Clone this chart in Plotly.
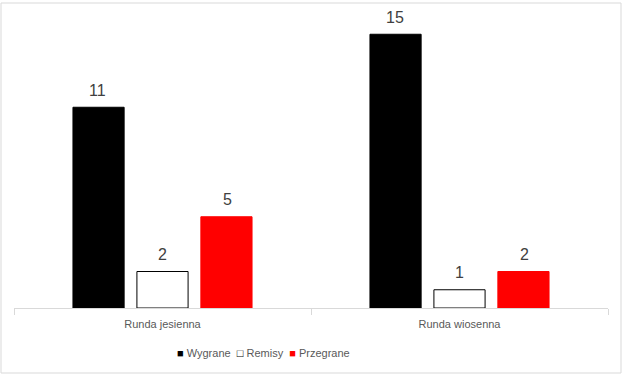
import plotly.graph_objects as go

categories = ["Runda jesienna", "Runda wiosenna"]
series_names = ["Wygrane", "Remisy", "Przegrane"]
wygrane = [11, 15]
remisy = [2, 1]
przegrane = [5, 2]

values = [wygrane, remisy, przegrane]
fills = ["#000000", "#ffffff", "#ff0000"]
lines = ["#000000", "#000000", "#ff0000"]
shifts = [-65, 0, 65]

FONT = "Liberation Sans Narrow, Liberation Sans, DejaVu Sans, sans-serif"

fig = go.Figure()
annotations = []
for name, vals, fc, lc, sh in zip(series_names, values, fills, lines, shifts):
    fig.add_trace(go.Bar(
        x=categories, y=vals, name=name,
        marker=dict(color=fc, line=dict(color=lc, width=1)),
        showlegend=False,
    ))
    for c, v in zip(categories, vals):
        annotations.append(dict(x=c, y=v, xref="x", yref="y", text=str(v), showarrow=False,
                                xshift=sh, yshift=17, yanchor="middle",
                                font=dict(size=16, color="#404040", family=FONT)))

legend_text = ("<span style='color:#000000'>■</span> Wygrane  "
               "<span style='color:#000000'>□</span> Remisy  "
               "<span style='color:#ff0000'>■</span> Przegrane")
annotations.append(dict(x=(263 - 14) / 594, y=(308 - 353) / 292, xref="paper", yref="paper",
                        text=legend_text, showarrow=False, xanchor="center", yanchor="middle",
                        font=dict(size=11, color="#595959", family=FONT)))

fig.update_layout(
    width=623, height=375,
    margin=dict(l=14, r=15, t=16, b=67),
    paper_bgcolor="white", plot_bgcolor="white",
    barmode="group", bargap=0.354, bargroupgap=0.2,
    font=dict(family=FONT, size=12, color="#595959"),
    showlegend=False,
    xaxis=dict(showline=True, linecolor="#d9d9d9", linewidth=1, ticks="outside",
               tickson="boundaries", ticklen=6, tickcolor="#d9d9d9",
               ticklabelstandoff=6, automargin=False,
               tickfont=dict(size=11, color="#595959"), showgrid=False),
    yaxis=dict(range=[0, 16], visible=False, showgrid=False, automargin=False),
    annotations=annotations,
    shapes=[dict(type="rect", xref="paper", yref="paper",
                 x0=-13/594, x1=607/594, y0=(308-373)/292, y1=(308-3)/292,
                 line=dict(color="#d9d9d9", width=1), fillcolor="rgba(0,0,0,0)", layer="below")],
)

fig.write_html("out.html")
